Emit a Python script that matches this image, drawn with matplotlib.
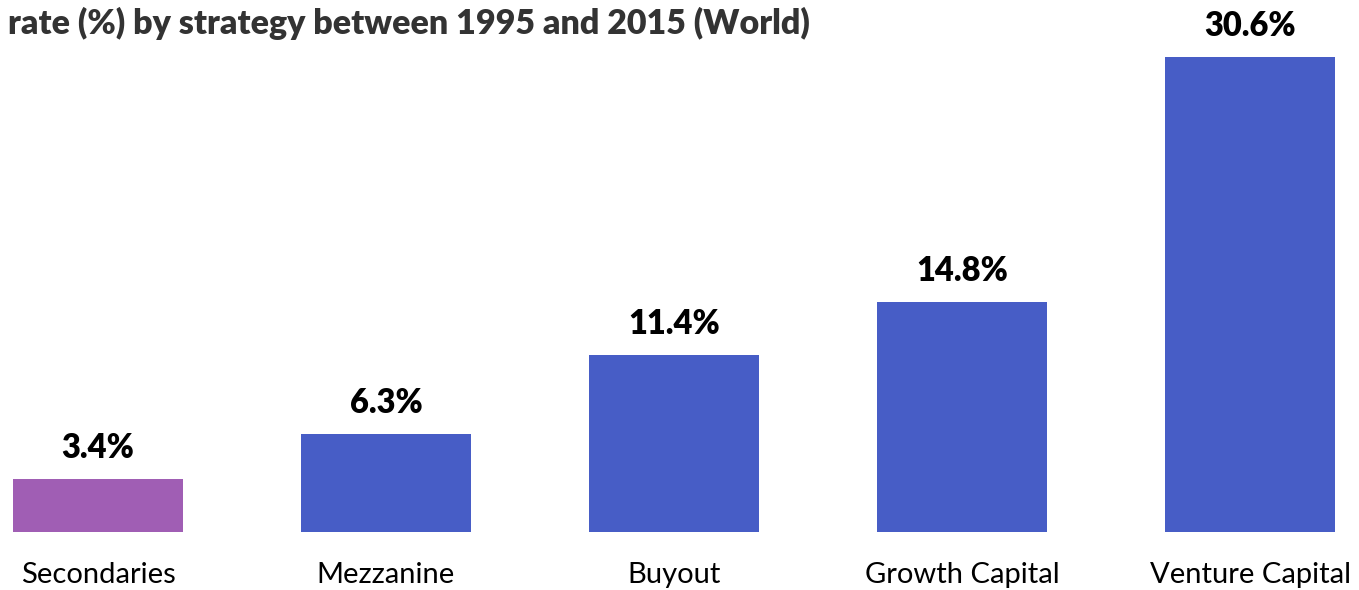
import matplotlib
matplotlib.use("Agg")
import matplotlib.pyplot as plt

# data
strategies = ["Secondaries", "Mezzanine", "Buyout", "Growth Capital", "Venture Capital"]
rates = [3.4, 6.3, 11.4, 14.8, 30.6]
bar_colors = ["#A05EB4", "#475DC6", "#475DC6", "#475DC6", "#475DC6"]
title = "rate (%) by strategy between 1995 and 2015 (World)"

plt.rcParams['font.family'] = ['Lato', 'DejaVu Sans']

W, H = 1359, 590
fig = plt.figure(figsize=(W / 100, H / 100), dpi=100)
# axes box: bar edges at x=13..1335 px, baseline at y=532 px, top bar at y=57 px
ax = fig.add_axes([13 / W, (H - 532) / H, (1335 - 13) / W, (532 - 57) / H])

x = range(len(strategies))
bars = ax.bar(x, rates, width=0.59, color=bar_colors)
ax.set_xlim(-0.295, len(strategies) - 1 + 0.295)
ax.set_ylim(0, max(rates))

for b, v in zip(bars, rates):
    ax.annotate(f"{v:.1f}%", (b.get_x() + b.get_width() / 2, v),
                xytext=(0, 11), textcoords="offset points",
                ha="center", va="bottom", fontsize=23.5, fontweight="heavy",
                color="black", annotation_clip=False)

ax.set_xticks(list(x))
ax.set_xticklabels(strategies, fontsize=21, color="black")
ax.tick_params(axis="x", length=0, pad=21.5)
ax.set_yticks([])
for s in ax.spines.values():
    s.set_visible(False)

fig.text(8 / W, 1 - 34 / H, title, fontsize=24.5, fontweight="heavy",
         color="#333333", ha="left", va="baseline")

fig.savefig("out.png", dpi=100)
